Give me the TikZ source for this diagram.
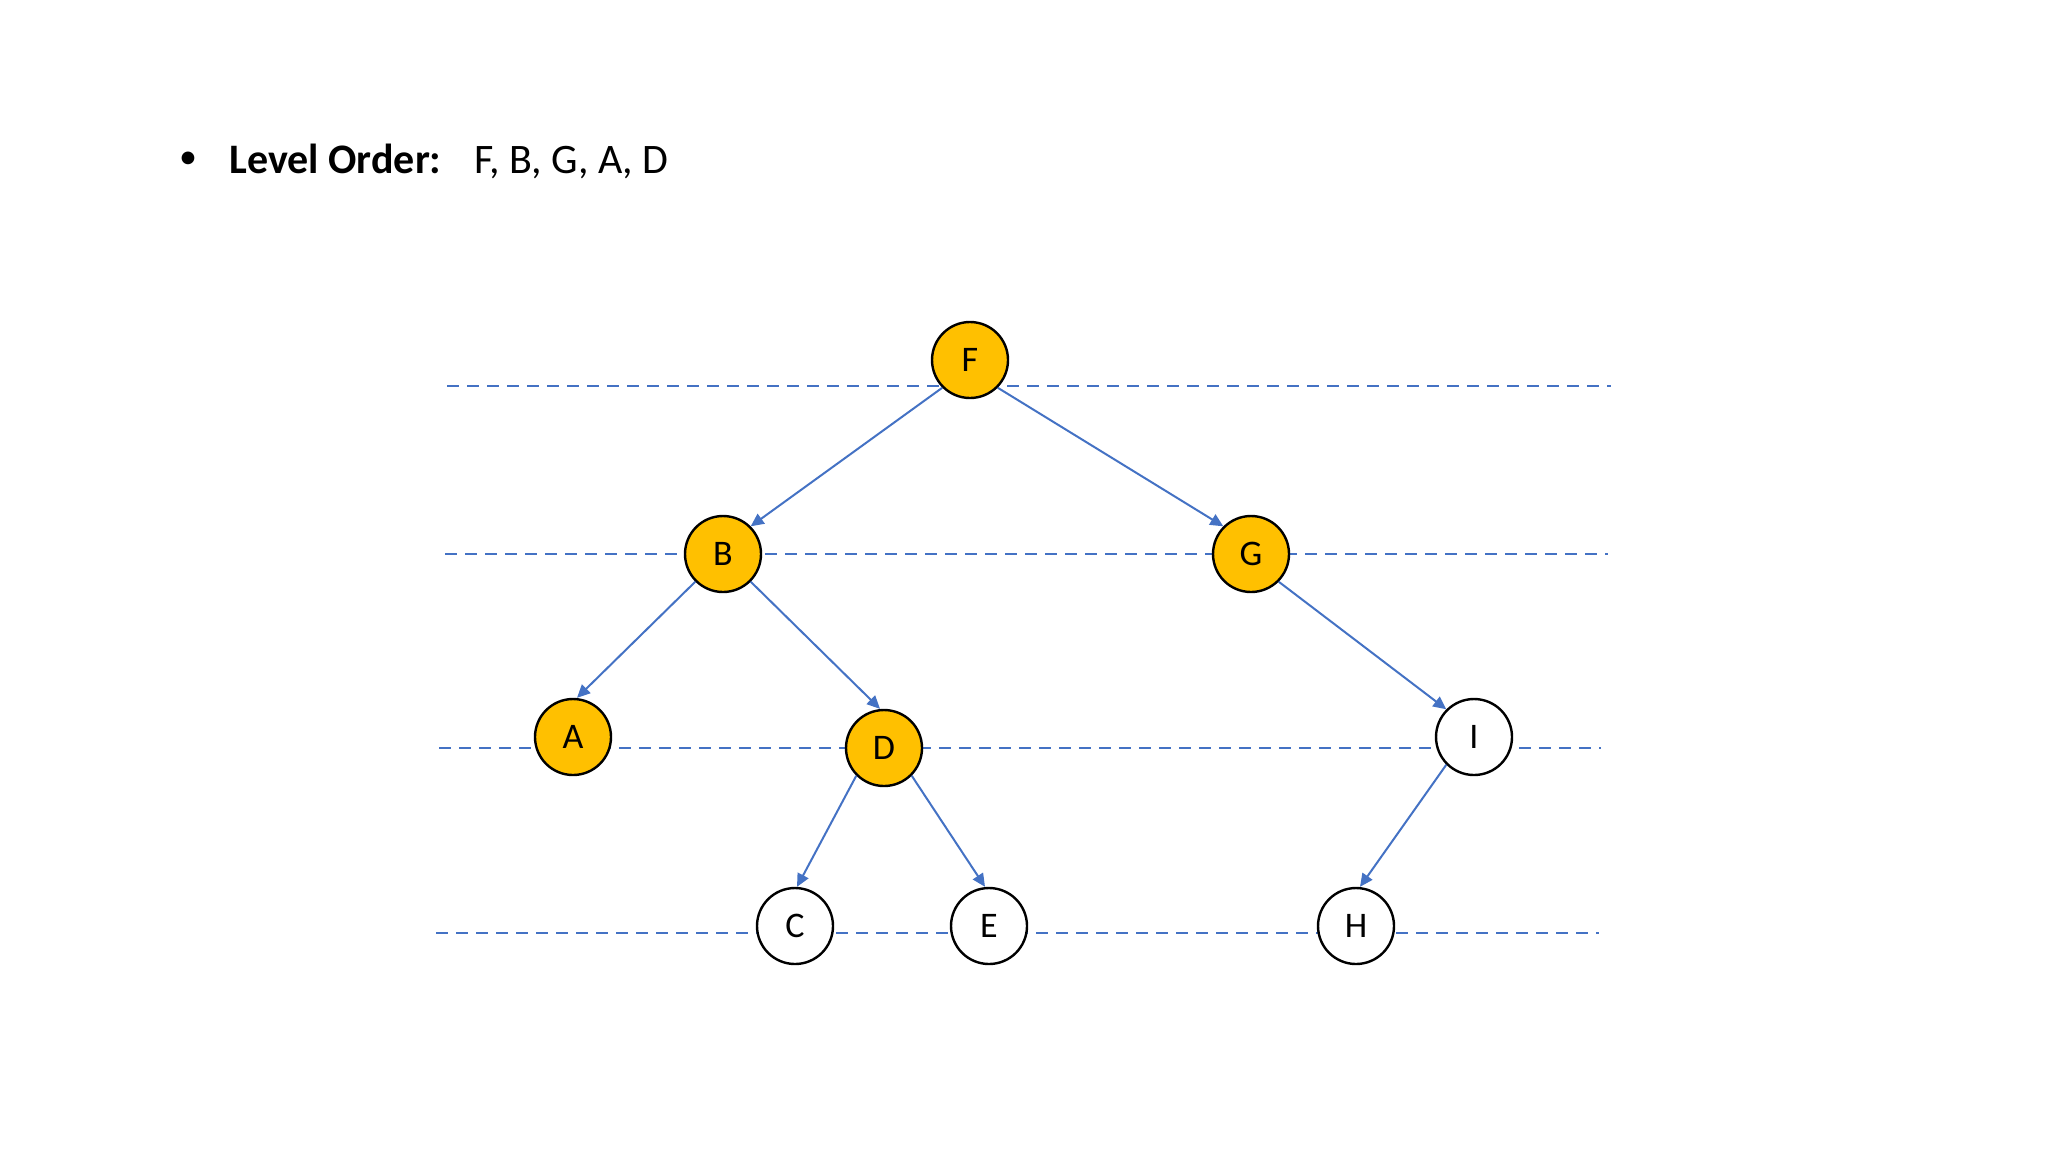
\documentclass[tikz,border=0pt]{standalone}
\usepackage{fontspec}
\setmainfont{Carlito}
\usetikzlibrary{arrows.meta}
\definecolor{nodeyellow}{HTML}{FFC000}
\definecolor{edgeblue}{HTML}{4472C4}
\begin{document}
\begin{tikzpicture}[x=0.5pt,y=-0.5pt,
  treenode/.style={circle,draw=black,line width=1.2pt,minimum size=38pt,inner sep=0pt,font=\fontsize{18}{20}\selectfont},
  visited/.style={treenode,fill=nodeyellow},
  unvisited/.style={treenode,fill=white},
  levelline/.style={draw=edgeblue,line width=0.9pt,dash pattern=on 6pt off 4pt},
  edge/.style={draw=edgeblue,line width=1pt,-{Triangle[length=6.5pt,width=6pt]}},
  titletext/.style={anchor=base west,inner sep=0pt,font=\fontsize{21}{25}\selectfont}]
\useasboundingbox (0,0) rectangle (2048,1152);
% level lines
\coordinate (l1a) at (447,386); \coordinate (l1b) at (1611,386);
\coordinate (l2a) at (445,554); \coordinate (l2b) at (1608,554);
\coordinate (l3a) at (439,748); \coordinate (l3b) at (1601,748);
\coordinate (l4a) at (436,933); \coordinate (l4b) at (1599,933);
\draw[levelline] (l1a) -- (l1b);
\draw[levelline] (l2a) -- (l2b);
\draw[levelline] (l3a) -- (l3b);
\draw[levelline] (l4a) -- (l4b);
% nodes
\node[visited] (F) at (970,360) {F};
\node[visited] (B) at (723,554) {B};
\node[visited] (G) at (1251,554) {G};
\node[visited] (A) at (573,737) {A};
\node[visited] (D) at (884,748) {D};
\node[unvisited] (I) at (1474,737) {I};
\node[unvisited] (C) at (795,926) {C};
\node[unvisited] (E) at (989,926) {E};
\node[unvisited] (H) at (1356,926) {H};
% edges
\draw[edge] (F.south west) -- (B.north east);
\draw[edge] (F.south east) -- (G.north west);
\draw[edge] (B.south west) -- ([xshift=2pt]A.north);
\draw[edge] (B.south east) -- ([xshift=-2pt]D.north);
\draw[edge] (G.south east) -- (I.north west);
\draw[edge] (D.south west) -- ([xshift=1pt]C.north);
\draw[edge] (D.south east) -- ([xshift=-2pt]E.north);
\draw[edge] (I.south west) -- ([xshift=2pt]H.north);
% title
\node[anchor=center,inner sep=0pt,font=\fontsize{18}{20}\selectfont] (bullet) at (188,160) {\textbullet};
\node[titletext] (title) at (229,173) {\textbf{Level Order:}};
\node[titletext] (order) at (474,173) {F, B, G, A, D};
\end{tikzpicture}
\end{document}
